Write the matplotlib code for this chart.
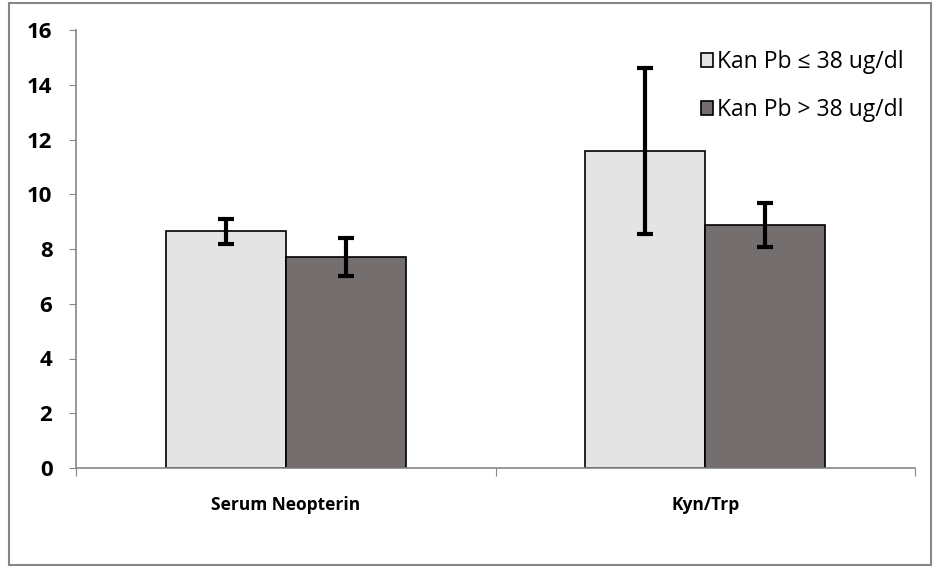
import matplotlib
matplotlib.use("Agg")
import matplotlib.pyplot as plt
from matplotlib.patches import Rectangle
import numpy as np

categories = ["Serum Neopterin", "Kyn/Trp"]
series_names = ["Kan Pb \u2264 38 ug/dl", "Kan Pb > 38 ug/dl"]
low_vals = [8.65, 11.58]
low_err = [0.46, 3.03]
high_vals = [7.71, 8.88]
high_err = [0.70, 0.80]
yticks = [0, 2, 4, 6, 8, 10, 12, 14, 16]

colors = ["#E4E4E4", "#756E6E"]
fam = ["Open Sans", "DejaVu Sans"]

fig = plt.figure(figsize=(9.4, 5.67), dpi=100)
ax = fig.add_axes([76/940, 1-468/567, (915-76)/940, (468-30)/567])

x = np.arange(len(categories))
w = 120/420
for vals, errs, col, off, name in [(low_vals, low_err, colors[0], -w/2, series_names[0]),
                                   (high_vals, high_err, colors[1], w/2, series_names[1])]:
    ax.bar(x + off, vals, width=w, color=col, edgecolor="black", linewidth=1.2, label=name, zorder=2)
    ax.errorbar(x + off, vals, yerr=errs, fmt="none", ecolor="black", elinewidth=3,
                capsize=6, capthick=3, zorder=3)

ax.set_xlim(-0.5, 1.5)
ax.set_ylim(0, 16)
ax.set_yticks(yticks)
ax.set_yticklabels([str(t) for t in yticks])
for t in ax.get_yticklabels():
    t.set_fontfamily(fam)
    t.set_fontsize(16)
    t.set_fontweight("bold")
ax.set_xticks([-0.5, 0.5, 1.5])
ax.set_xticklabels([])
ax.set_xticks(x, minor=True)
ax.set_xticklabels(categories, minor=True)
for t in ax.get_xticklabels(minor=True):
    t.set_fontfamily(fam)
    t.set_fontsize(12.5)
    t.set_fontweight("bold")
ax.tick_params(axis="x", which="minor", length=0, pad=20)
ax.tick_params(axis="x", which="major", length=6, color="#868686", direction="out")
ax.tick_params(axis="y", length=5, color="#868686", direction="out", pad=12)
for s in ["top", "right"]:
    ax.spines[s].set_visible(False)
for s in ["left", "bottom"]:
    ax.spines[s].set_color("#868686")
    ax.spines[s].set_linewidth(1.2)

leg = ax.legend(loc="upper right", bbox_to_anchor=(1.0, 0.98), frameon=False,
                prop={"family": fam, "size": 16.5}, handlelength=0.55, handleheight=0.55,
                handletextpad=0.15, labelspacing=1.05, borderaxespad=0.1)

fig.patches.append(Rectangle((9/940, 1-565/567), (931-9)/940, (565-3)/567,
                             transform=fig.transFigure, fill=False,
                             edgecolor="#868686", linewidth=1.5))
fig.savefig("out.png", dpi=100)
